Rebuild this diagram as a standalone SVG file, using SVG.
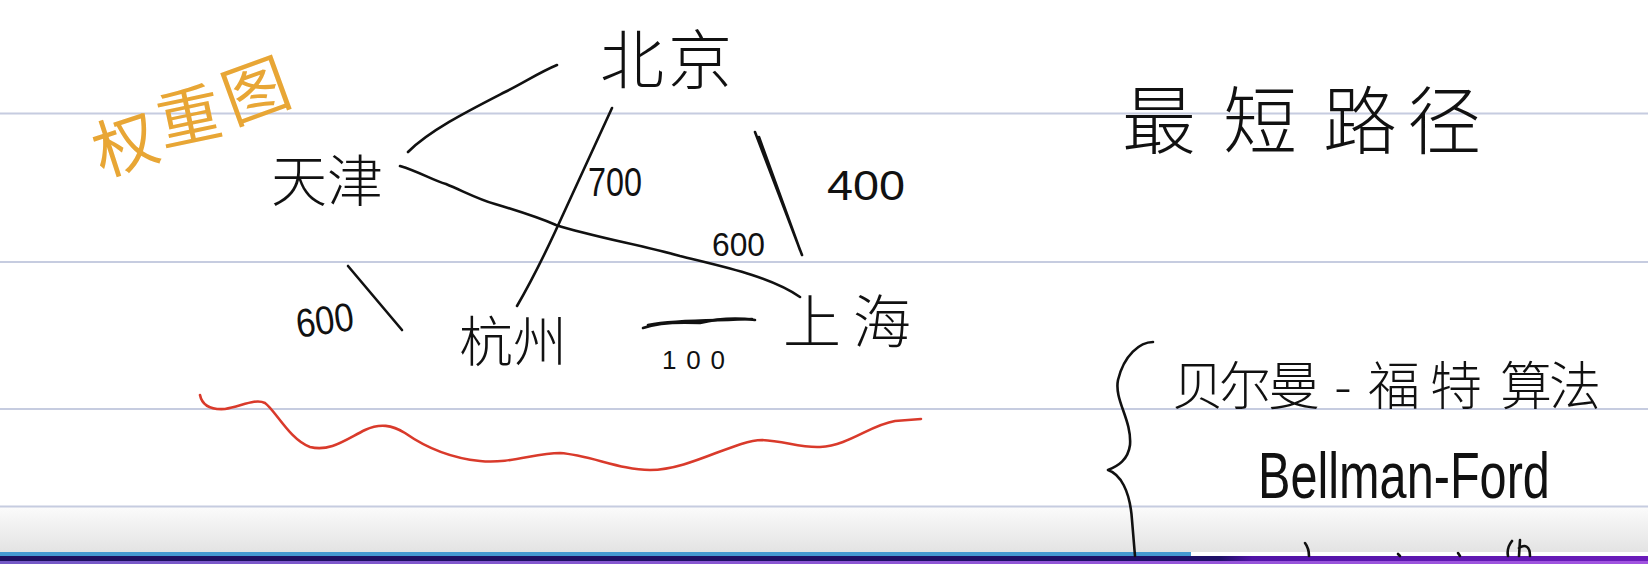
<svg xmlns="http://www.w3.org/2000/svg" width="1648" height="564" viewBox="0 0 1648 564">
<style>
.ink{fill:none;stroke:#111;stroke-width:2.6;stroke-linecap:round;stroke-linejoin:round}
.rule{stroke:#c6cce0;stroke-width:2}
.cjk{font-family:"Noto Sans CJK SC","Noto Sans",sans-serif;fill:#111;font-weight:300}
.num{font-family:"Liberation Sans","DejaVu Sans",sans-serif;fill:#111;font-weight:400}
.org{font-family:"Noto Sans CJK SC",sans-serif;fill:#e8a635;font-weight:400}
</style>
<defs>
<linearGradient id="shade" x1="0" y1="0" x2="0" y2="1"><stop offset="0" stop-color="#fbfbfb"/><stop offset="1" stop-color="#e3e3e3"/></linearGradient>
<linearGradient id="band" x1="0" y1="0" x2="1" y2="0"><stop offset="0" stop-color="#1e0f5e"/><stop offset="0.74" stop-color="#1e0f66"/><stop offset="0.76" stop-color="#5012a6"/><stop offset="1" stop-color="#6b1cba"/></linearGradient>
<linearGradient id="band2" x1="0" y1="0" x2="1" y2="0"><stop offset="0" stop-color="#7459c6"/><stop offset="1" stop-color="#a153e0"/></linearGradient>
</defs>
<rect width="1648" height="564" fill="#ffffff"/>
<g id="paper">
<line class="rule" x1="0" y1="113.5" x2="1648" y2="113.5"/>
<line class="rule" x1="0" y1="262" x2="1648" y2="262"/>
<line class="rule" x1="0" y1="409" x2="1648" y2="409"/>
<rect x="0" y="507" width="1648" height="45" fill="url(#shade)"/>
<line class="rule" x1="0" y1="506.5" x2="1648" y2="506.5" stroke="#c8c8d2"/>
<rect x="0" y="552" width="1191" height="4" fill="#4599d1"/>
<rect x="0" y="556" width="1648" height="5" fill="url(#band)"/>
<rect x="0" y="561" width="1648" height="3" fill="url(#band2)"/>
</g>
<g id="title-weighted-graph">
<text class="org" font-size="64" text-anchor="middle" dominant-baseline="central" transform="translate(124,140) rotate(-18)">权</text>
<text class="org" font-size="64" text-anchor="middle" dominant-baseline="central" transform="translate(188,112) rotate(-12)">重</text>
<text class="org" font-size="66" text-anchor="middle" dominant-baseline="central" transform="translate(254,86) rotate(-20)">图</text>
</g>
<g id="connectors">
<path class="ink" d="M408,152 C430,130 470,110 505,92 C525,82 540,72 557,65"/>
<path class="ink" d="M400,166 C420,172 432,180 446,184 C465,192 480,200 495,204 C515,210 535,216 556,225 C590,236 640,245 680,256 C720,266 770,276 800,297"/>
<path class="ink" d="M612,108 L555,232 Q535,275 517,306"/>
<path class="ink" d="M755,132 L802,255 M759,137 L800,250" stroke-width="3.4"/>
<path class="ink" d="M348,266 L402,330"/>
<path class="ink" d="M643,328 C660,322 680,322 700,323 C720,318 740,318 755,320" stroke-width="7"/>
<path class="ink" d="M648,325 C680,319 720,321 752,319" stroke-width="4"/>
</g>
<g id="edge-labels">
<text class="num" x="588" y="196" font-size="40" textLength="54" lengthAdjust="spacingAndGlyphs">700</text>
<text class="num" x="827" y="200" font-size="42" textLength="78" lengthAdjust="spacingAndGlyphs">400</text>
<text class="num" x="712" y="256" font-size="34" textLength="53" lengthAdjust="spacingAndGlyphs">600</text>
<text class="num" x="295" y="334" font-size="40" textLength="58" lengthAdjust="spacingAndGlyphs" transform="rotate(-8 324 315)">600</text>
<text class="num" x="662" y="369" font-size="26" textLength="63" lengthAdjust="spacing">100</text>
</g>
<g id="node-tianjin"><text class="cjk" x="327" y="176" font-size="56" text-anchor="middle" dominant-baseline="central">天津</text></g>
<g id="node-beijing"><text class="cjk" x="668" y="55" font-size="64" text-anchor="middle" dominant-baseline="central" letter-spacing="4">北京</text></g>
<g id="node-hangzhou"><text class="cjk" x="513" y="338" font-size="54" text-anchor="middle" dominant-baseline="central">杭州</text></g>
<g id="node-shanghai"><text class="cjk" x="853" y="318" font-size="58" text-anchor="middle" dominant-baseline="central" letter-spacing="12">上海</text></g>
<g id="underline-red"><path d="M200,395 C202,405 210,410 225,409 C240,407 255,398 265,403 C275,410 290,440 310,447 C330,452 345,440 365,430 C380,423 392,425 405,433 C425,447 450,458 480,461 C510,464 535,453 560,453 C590,455 620,470 650,470 C690,470 735,440 762,440 C785,441 800,448 820,447 C850,445 870,425 895,421 L921,419" fill="none" stroke="#d93a2b" stroke-width="2.6" stroke-linecap="round"/></g>
<g id="title-shortest-path"><text class="cjk" y="115" font-size="74" text-anchor="middle" dominant-baseline="central" x="1159 1260 1360 1444">最短路径</text></g>
<g id="brace"><path class="ink" d="M1153,342 C1140,342 1124,355 1118,380 C1114,400 1132,420 1130,445 C1128,460 1118,466 1108,470 C1120,474 1130,490 1132,520 L1135,556"/></g>
<g id="algo-bellman-ford">
<text class="cjk" y="382" font-size="52" text-anchor="middle" dominant-baseline="central" x="1198 1245 1294 1343 1394 1456 1526 1575">贝尔曼-福特算法</text>
<text class="num" font-size="64" transform="translate(1258,498) scale(0.76,1)">Bellman-Ford</text>
</g>
<g id="cut-off-marks">
<path class="ink" d="M1305,543 C1308,547 1309,551 1309,556"/>
<path class="ink" d="M1398,554 L1400,556"/>
<path class="ink" d="M1458,553 L1460,556"/>
<path class="ink" d="M1512,541 C1508,546 1507,551 1508,556 M1520,540 L1519,556 M1519,548 C1525,544 1530,546 1530,556"/>
</g>
</svg>
